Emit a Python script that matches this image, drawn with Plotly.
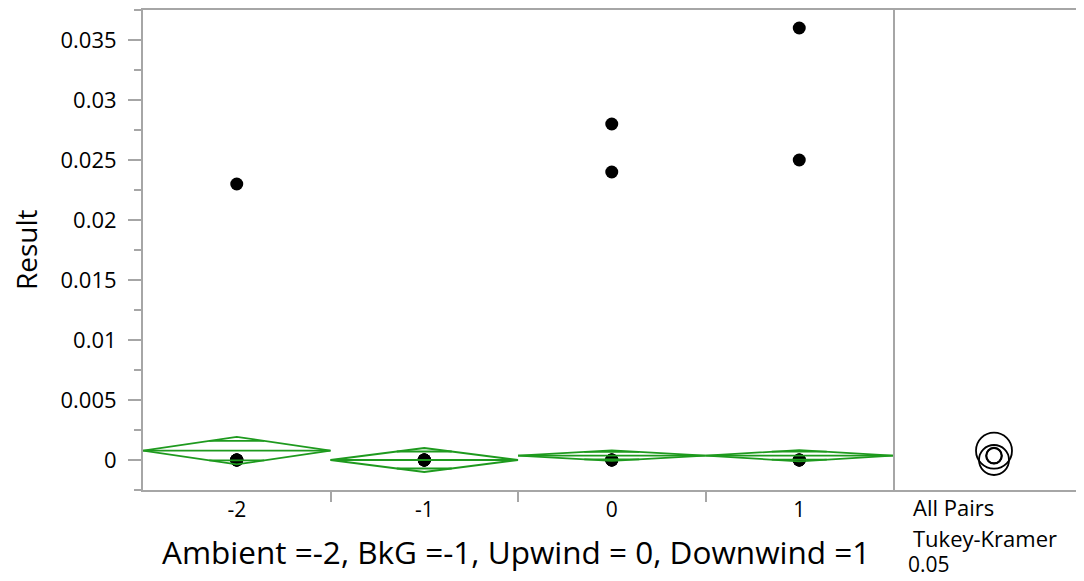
import math
import plotly.graph_objects as go

# ---------------- data ----------------
categories = ["-2", "-1", "0", "1"]
result_m2 = [0.023, 0.0, 0.0, 0.0, 0.0, 0.0]
result_m1 = [0.0, 0.0, 0.0, 0.0, 0.0, 0.0]
result_0 = [0.028, 0.024, 0.0, 0.0, 0.0, 0.0]
result_1 = [0.036, 0.025, 0.0, 0.0, 0.0, 0.0]
group_means = [0.00078, 0.0, 0.00036, 0.00036]
ci_halfwidths = [0.00115, 0.0010, 0.00044, 0.00047]
circle_radii = [0.0015, 0.00125, 0.00063, 0.00066]
y_tickvals = [0, 0.005, 0.01, 0.015, 0.02, 0.025, 0.03, 0.035]
y_ticktext = ["0", "0.005", "0.01", "0.015", "0.02", "0.025", "0.03", "0.035"]
x_title = "Ambient =-2, BkG =-1, Upwind = 0, Downwind =1"
y_title = "Result"
panel_texts = ["All Pairs", "Tukey-Kramer", "0.05"]

# ---------------- layout constants ----------------
OFF = 8                      # default page (body) margin
W, H = 1084 - OFF, 581 - OFF
ML, MR, MT, MB = 143 - OFF, 0, 10 - OFF, 91
PW, PH = W - ML - MR, H - MT - MB
MAIN_W = 750
Y_RANGE = [-0.0025, 0.0375]
FONT = "Open Sans"
AXIS_GRAY = "#a6a6a6"
GREEN = "#1e9a1e"

def px_x(x):
    """screen x (reference pixels) -> paper fraction"""
    return (x - OFF - ML) / PW

def px_y(y):
    """screen y (reference pixels) -> paper fraction"""
    return (H - MB - (y - OFF)) / PH

fig = go.Figure()

# data points
groups = [result_m2, result_m1, result_0, result_1]
for i, vals in enumerate(groups):
    fig.add_trace(go.Scatter(
        x=[i] * len(vals), y=vals, mode="markers",
        marker=dict(color="black", size=13), showlegend=False, hoverinfo="y"))

# means diamonds
k = 1 - 1 / math.sqrt(2)
for i, (m, h) in enumerate(zip(group_means, ci_halfwidths)):
    fig.add_trace(go.Scatter(
        x=[i - 0.5, i, i + 0.5, i, i - 0.5],
        y=[m, m + h, m, m - h, m],
        mode="lines", line=dict(color=GREEN, width=1.8),
        showlegend=False, hoverinfo="skip"))
    o = h / math.sqrt(2)
    fig.add_trace(go.Scatter(
        x=[i - 0.5, i + 0.5, None, i - 0.5 * k, i + 0.5 * k, None, i - 0.5 * k, i + 0.5 * k],
        y=[m, m, None, m + o, m + o, None, m - o, m - o],
        mode="lines", line=dict(color=GREEN, width=1.8),
        showlegend=False, hoverinfo="skip"))

# invisible trace for the comparison-circle panel
fig.add_trace(go.Scatter(x=[0.5], y=[0], xaxis="x2", yaxis="y",
                         mode="markers", marker=dict(opacity=0),
                         showlegend=False, hoverinfo="skip"))

# comparison circles
panel_w = PW - MAIN_W
px_per_unit = PH / (Y_RANGE[1] - Y_RANGE[0])
cx = (994 - (143 + MAIN_W)) / panel_w
for m, r in zip(group_means, circle_radii):
    rx = r * px_per_unit / panel_w
    fig.add_shape(type="circle", xref="x2", yref="y",
                  x0=cx - rx, x1=cx + rx, y0=m - r, y1=m + r,
                  line=dict(color="black", width=1.8))

# annotations
fig.add_annotation(text=x_title, xref="paper", yref="paper",
                   x=px_x(516), y=px_y(551), showarrow=False,
                   xanchor="center", yanchor="middle",
                   font=dict(family=FONT, size=31.5, color="black"))
fig.add_annotation(text=y_title, xref="paper", yref="paper",
                   x=px_x(26), y=px_y(250), showarrow=False, textangle=-90,
                   xanchor="center", yanchor="middle",
                   font=dict(family=FONT, size=28, color="black"))
for t, xx, yy in zip(panel_texts[:2], [911, 911], [507, 538]):
    fig.add_annotation(text=t, xref="paper", yref="paper",
                       x=px_x(xx), y=px_y(yy), showarrow=False,
                       xanchor="left", yanchor="middle",
                       font=dict(family=FONT, size=22, color="black"))
fig.add_annotation(text=panel_texts[2], xref="paper", yref="paper",
                   x=px_x(906), y=px_y(580), showarrow=False,
                   xanchor="left", yanchor="bottom",
                   font=dict(family=FONT, size=21, color="black"))

fig.update_layout(
    width=W, height=H,
    margin=dict(l=ML, r=MR, t=MT, b=MB, pad=0),
    plot_bgcolor="white", paper_bgcolor="white",
    font=dict(family=FONT, color="black"),
    xaxis=dict(domain=[0, MAIN_W / PW], range=[-0.5, 3.5],
               tickmode="array", tickvals=list(range(len(categories))),
               ticktext=categories, ticks="", showgrid=False, zeroline=False,
               showline=True, mirror=True, linecolor=AXIS_GRAY, linewidth=2,
               tickfont=dict(size=21, color="black"),
               minor=dict(tickvals=[0.5, 1.5, 2.5], ticks="outside", ticklen=10,
                          tickcolor=AXIS_GRAY, tickwidth=2, showgrid=False)),
    xaxis2=dict(domain=[MAIN_W / PW, 1], range=[0, 1], anchor="y",
                showticklabels=False, ticks="", showgrid=False, zeroline=False,
                showline=True, mirror=True, linecolor=AXIS_GRAY, linewidth=2),
    yaxis=dict(range=Y_RANGE, tickmode="array", tickvals=y_tickvals,
               ticktext=y_ticktext, ticks="outside", ticklen=13,
               tickcolor=AXIS_GRAY, tickwidth=2, showgrid=False, zeroline=False,
               showline=True, mirror=True, linecolor=AXIS_GRAY, linewidth=2,
               ticklabelstandoff=7,
               tickfont=dict(size=22, color="black"),
               minor=dict(dtick=0.0025, tick0=0, ticks="outside", ticklen=7,
                          tickcolor=AXIS_GRAY, tickwidth=2, showgrid=False)),
)

fig.write_html("out.html")
